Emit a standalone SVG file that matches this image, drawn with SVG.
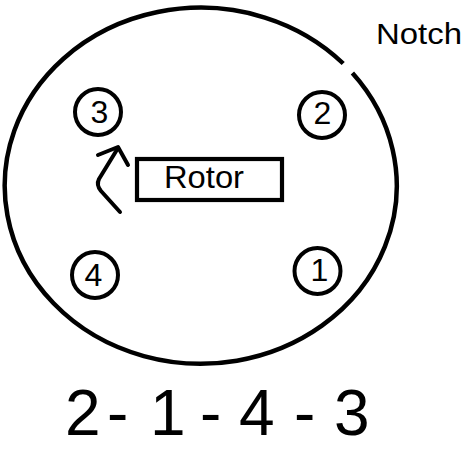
<svg xmlns="http://www.w3.org/2000/svg" width="471" height="461" viewBox="0 0 471 461">
  <style>
    .ln { fill: none; stroke: #000; }
    .txt { font-family: "Liberation Sans", Arial, sans-serif; fill: #000; }
    .cyl { fill: #fff; stroke: #000; stroke-width: 4; }
    .dig { font-size: 32px; text-anchor: middle; }
  </style>
  <rect width="471" height="461" fill="#fff"/>
  <g id="cap">
    <path class="ln" stroke-width="4.5" d="M352.4,73 A196,178 0 1 1 343.2,63.5"/>
  </g>
  <g id="notch-label">
    <text class="txt" x="376" y="44" font-size="29" textLength="86" lengthAdjust="spacingAndGlyphs">Notch</text>
  </g>
  <g id="rotor">
    <rect class="ln" stroke-width="4.2" x="137" y="159" width="145" height="41"/>
    <text class="txt" x="164" y="188" font-size="31" textLength="80" lengthAdjust="spacingAndGlyphs">Rotor</text>
  </g>
  <g id="cyl-3">
    <circle class="cyl" cx="98" cy="112" r="23"/>
    <text class="txt dig" x="99.5" y="123">3</text>
  </g>
  <g id="cyl-2">
    <circle class="cyl" cx="322" cy="115" r="23"/>
    <text class="txt dig" x="322.5" y="124">2</text>
  </g>
  <g id="cyl-4">
    <circle class="cyl" cx="95" cy="275" r="23"/>
    <text class="txt dig" x="93.5" y="286">4</text>
  </g>
  <g id="cyl-1">
    <circle class="cyl" cx="317.5" cy="271" r="23"/>
    <text class="txt dig" x="319.5" y="281">1</text>
  </g>
  <g id="connectors">
    <path class="ln" stroke-width="4" stroke-linecap="round" stroke-linejoin="round" d="M120,212 L101,191 Q96,185 99,179 L118,148"/>
    <path class="ln" stroke-width="4" stroke-linecap="round" stroke-linejoin="round" d="M98,155 L118,147 L128,165"/>
  </g>
  <g id="firing-order">
    <text class="txt" font-size="64" y="435" x="65 107 125 150 170 200 220 239 265 294 315 334">2- 1 - 4 - 3</text>
  </g>
</svg>
